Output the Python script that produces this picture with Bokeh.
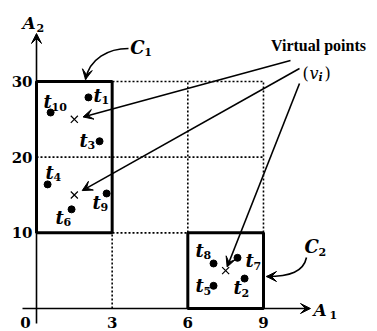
from bokeh.plotting import figure
from bokeh.models import Arrow, VeeHead, Range1d
from bokeh.embed import file_html
from bokeh.resources import INLINE
from bokeh.core.properties import value

# ---------------- data ----------------
point_ids = ["1", "2", "3", "4", "5", "6", "7", "8", "9", "10"]
point_x = [2.06, 8.25, 2.50, 0.44, 7.02, 1.39, 7.97, 7.02, 2.78, 0.56]
point_y = [27.9, 3.96, 22.1, 16.4, 3.0, 13.1, 6.7, 5.95, 15.2, 25.9]
# label placement relative to each point (screen px, +down)
label_dx = [5, -11, -20, -2, -18, -16, 8, -18, -14, -7]
label_dy = [-2, 9, -1, -12, 0, 8, 3, -13, 9, -11]

virtual_x = [1.5, 1.5, 7.5]
virtual_y = [25.0, 15.0, 5.0]

cluster_ids = ["1", "2"]
cluster_left = [0, 6]
cluster_right = [3, 9]
cluster_bottom = [10, 0]
cluster_top = [30, 10]

x_ticks = [0, 3, 6, 9]
y_ticks = [10, 20, 30]
grid_x = [3, 6, 9]
grid_y = [10, 20, 30]

# ---------------- figure ----------------
W, H = 377, 331
X0, X1 = -36 / 25.22, (W - 36) / 25.22
Y0, Y1 = (308 - H) / 7.567, 308 / 7.567
PXX = (X1 - X0) / W
PXY = (Y1 - Y0) / H


def dx(px):
    return px * PXX


def dy(px):
    return -px * PXY


p = figure(width=W, height=H, x_range=Range1d(X0, X1), y_range=Range1d(Y0, Y1),
           x_axis_type=None, y_axis_type=None, toolbar_location=None,
           output_backend="svg", min_border=0)
p.outline_line_color = None
p.background_fill_color = "white"

SERIF = value("DejaVu Serif")
TIMES = value("Liberation Serif")

# dotted grid
p.segment(x0=grid_x, y0=[0] * len(grid_x), x1=grid_x, y1=[max(grid_y)] * len(grid_x),
          line_color="black", line_width=1.6, line_dash="2 2")
p.segment(x0=[0] * len(grid_y), y0=grid_y, x1=[max(grid_x)] * len(grid_y), y1=grid_y,
          line_color="black", line_width=1.6, line_dash="2 2")

# axes
ax_head = dict(size=10, fill_color="black", line_color="black", line_width=1)
p.add_layout(Arrow(end=VeeHead(**ax_head), x_start=dx(-14), y_start=0,
                   x_end=max(x_ticks) + dx(47), y_end=0, line_width=1.6))
p.add_layout(Arrow(end=VeeHead(**ax_head), x_start=0, y_start=dy(15),
                   x_end=0, y_end=max(y_ticks) + dy(-48), line_width=1.6))

# cluster boxes
p.quad(left=cluster_left, right=cluster_right, bottom=cluster_bottom, top=cluster_top,
       fill_alpha=0, line_color="black", line_width=3)

# points
p.scatter(point_x, point_y, size=7, color="black")
# virtual points
p.scatter(virtual_x, virtual_y, marker="x", size=10, line_color="black", line_width=1.2)

# point labels
tx = [x + dx(d) for x, d in zip(point_x, label_dx)]
ty = [y + dy(d) for y, d in zip(point_y, label_dy)]
p.text(tx, ty, text=["t"] * len(tx), text_font=SERIF, text_font_style="bold italic",
       text_font_size="18px", text_align="left", text_baseline="middle")
sx = [x + dx(8) for x in tx]
sy = [y + dy(5) for y in ty]
p.text(sx, sy, text=point_ids, text_font=SERIF, text_font_style="bold",
       text_font_size="11px", text_align="left", text_baseline="middle")

# tick labels
p.text([t + dx(-11 if t == 0 else 0) for t in x_ticks], [dy(14)] * len(x_ticks),
       text=[str(t) for t in x_ticks], text_font=SERIF, text_font_style="bold",
       text_font_size="15px", text_align="center", text_baseline="middle")
p.text([dx(-4)] * len(y_ticks), y_ticks, text=[str(t) for t in y_ticks],
       text_font=SERIF, text_font_style="bold", text_font_size="15px",
       text_align="right", text_baseline="middle")

# axis titles
p.text([max(x_ticks) + dx(50)], [dy(1)], text=["A"], text_font=SERIF,
       text_font_style="bold italic", text_font_size="17px",
       text_align="left", text_baseline="middle")
p.text([max(x_ticks) + dx(66)], [dy(6)], text=["1"], text_font=SERIF,
       text_font_style="bold", text_font_size="11px",
       text_align="left", text_baseline="middle")
p.text([dx(-14)], [max(y_ticks) + dy(-58)], text=["A"], text_font=SERIF,
       text_font_style="bold italic", text_font_size="17px",
       text_align="left", text_baseline="middle")
p.text([dx(0)], [max(y_ticks) + dy(-53)], text=["2"], text_font=SERIF,
       text_font_style="bold", text_font_size="11px",
       text_align="left", text_baseline="middle")

# cluster labels
c_lx = [cluster_right[0] + dx(18), cluster_right[1] + dx(41)]
c_ly = [cluster_top[0] + dy(-34), cluster_top[1] + dy(14)]
p.text(c_lx, c_ly, text=["C"] * 2, text_font=SERIF, text_font_style="bold italic",
       text_font_size="18px", text_align="left", text_baseline="middle")
p.text([x + dx(14) for x in c_lx], [y + dy(5) for y in c_ly], text=cluster_ids,
       text_font=SERIF, text_font_style="bold", text_font_size="11px",
       text_align="left", text_baseline="middle")

# curved arrows to clusters
head = dict(size=10, fill_color="black", line_color="black", line_width=1)
c1_end = (dx(85 - 36), dy(79 - 308))
c1 = [(dx(128 - 36), dy(48 - 308)), (dx(108 - 36), dy(48 - 308)),
      (dx(89 - 36), dy(58 - 308))]
p.bezier(x0=[c1[0][0]], y0=[c1[0][1]], x1=[c1_end[0]], y1=[c1_end[1]],
         cx0=[c1[1][0]], cy0=[c1[1][1]], cx1=[c1[2][0]], cy1=[c1[2][1]],
         line_color="black", line_width=1.6)
p.add_layout(Arrow(end=VeeHead(**head), x_start=c1[2][0], y_start=c1[2][1],
                   x_end=c1_end[0], y_end=c1_end[1], line_alpha=0))

c2_end = (dx(266 - 36), dy(276 - 308))
c2 = [(dx(306 - 36), dy(257 - 308)), (dx(303 - 36), dy(271 - 308)),
      (dx(290 - 36), dy(276 - 308))]
p.bezier(x0=[c2[0][0]], y0=[c2[0][1]], x1=[c2_end[0]], y1=[c2_end[1]],
         cx0=[c2[1][0]], cy0=[c2[1][1]], cx1=[c2[2][0]], cy1=[c2[2][1]],
         line_color="black", line_width=1.6)
p.add_layout(Arrow(end=VeeHead(**head), x_start=c2[2][0], y_start=c2[2][1],
                   x_end=c2_end[0], y_end=c2_end[1], line_alpha=0))

# virtual point annotation
p.text([dx(318 - 36)], [dy(45 - 308)], text=["Virtual points"], text_font=TIMES,
       text_font_style="bold", text_font_size="16px", text_align="center",
       text_baseline="middle")
p.text([dx(302 - 36)], [dy(73 - 308)], text=["("], text_font=SERIF,
       text_font_size="16px", text_align="left", text_baseline="middle")
p.text([dx(309 - 36)], [dy(73 - 308)], text=["v"], text_font=SERIF,
       text_font_style="italic", text_font_size="16px", text_align="left",
       text_baseline="middle")
p.text([dx(318 - 36)], [dy(77 - 308)], text=["i"], text_font=SERIF,
       text_font_style="bold italic", text_font_size="11px", text_align="left",
       text_baseline="middle")
p.text([dx(324 - 36)], [dy(73 - 308)], text=[")"], text_font=SERIF,
       text_font_size="16px", text_align="left", text_baseline="middle")

arrow_start_px = [(290, 60), (299, 68), (299, 83)]
arrow_gap_px = [9, 9, 4]
for (spx, spy), gap, vx, vy in zip(arrow_start_px, arrow_gap_px, virtual_x, virtual_y):
    xs, ys = dx(spx - 36), dy(spy - 308)
    ddx = (vx - xs) / PXX
    ddy = (vy - ys) / PXY
    L = (ddx ** 2 + ddy ** 2) ** 0.5
    f = (L - gap) / L
    p.add_layout(Arrow(end=VeeHead(**head), x_start=xs, y_start=ys,
                       x_end=xs + (vx - xs) * f, y_end=ys + (vy - ys) * f,
                       line_width=1.6))

open("out.html", "w").write(file_html(p, INLINE))
